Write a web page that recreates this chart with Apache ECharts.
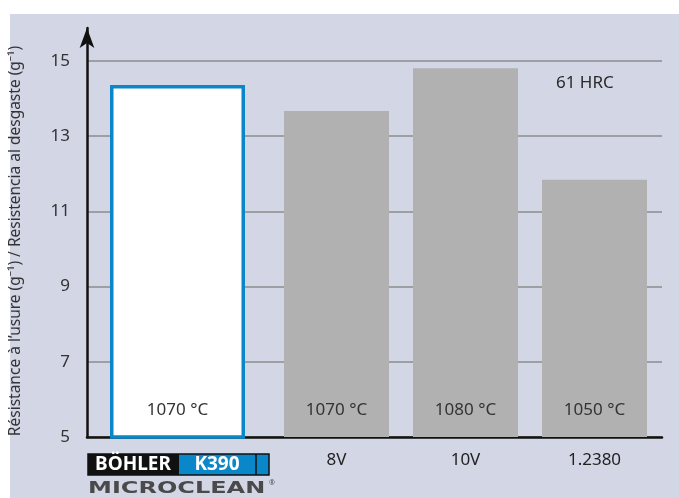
<!DOCTYPE html>
<html>
<head>
<meta charset="utf-8">
<script src="https://cdn.jsdelivr.net/npm/echarts@6/dist/echarts.min.js"></script>
<style>
  html, body { margin: 0; padding: 0; background: #fff; }
  #chart { width: 679px; height: 498px; }
</style>
</head>
<body>
<div id="chart"></div>
<script>
// data
var grades = ['BÖHLER K390', '8V', '10V', '1.2380'];
var wearResistance = [14.36, 13.67, 14.81, 11.84];
var hardeningTemps = ['1070 °C', '1070 °C', '1080 °C', '1050 °C'];
var yTicks = [5, 7, 9, 11, 13, 15];
var hardnessNote = '61 HRC';

var chart = echarts.init(document.getElementById('chart'));
var font = 'Noto Sans, sans-serif';

// bar layout: width and centre shift in px (first bar is the wider highlighted one)
var barW = [135, 105, 105, 105];
var barShift = [-30, 0, 0, 0];

chart.setOption({
  animation: false,
  graphic: [
    { type: 'rect', z: -10, shape: { x: 10, y: 14, width: 669, height: 484 }, style: { fill: '#d3d6e5' } },
    { type: 'text', x: 556, y: 75, style: { text: hardnessNote, font: '17px ' + font, fill: '#2a2a2a' } },
    // logo
    { type: 'rect', shape: { x: 88, y: 454, width: 91, height: 21 }, style: { fill: '#111' } },
    { type: 'rect', shape: { x: 179, y: 454, width: 90, height: 21 }, style: { fill: '#0a87c8' } },
    { type: 'rect', shape: { x: 88, y: 454, width: 181, height: 21 }, style: { fill: 'none', stroke: '#111', lineWidth: 1.5 } },
    { type: 'line', shape: { x1: 256, y1: 454, x2: 256, y2: 475 }, style: { stroke: '#111', lineWidth: 1.5 } },
    { type: 'text', x: 133, y: 465, style: { text: 'BÖHLER', font: 'bold 19px ' + font, fill: '#fff', align: 'center', verticalAlign: 'middle' } },
    { type: 'text', x: 217, y: 465, style: { text: 'K390', font: 'bold 19px ' + font, fill: '#fff', align: 'center', verticalAlign: 'middle' } },
    { type: 'text', x: 88, y: 489, scaleX: 1.6, style: { text: 'MICROCLEAN', font: 'bold 15px DejaVu Sans', fill: '#4a4a4a', verticalAlign: 'middle' } },
    { type: 'text', x: 269, y: 483, style: { text: '®', font: '7px ' + font, fill: '#4a4a4a', verticalAlign: 'middle' } }
  ],
  grid: [
    { left: 87, right: 17, top: 61, bottom: 61 },
    { left: 143, right: 20, top: 61, bottom: 61 },
    { left: 87, right: 17, top: 28, bottom: 61 }
  ],
  xAxis: [
    { gridIndex: 0, type: 'category', data: grades, axisLine: { lineStyle: { color: '#111', width: 2.5 } },
      axisTick: { show: false }, axisLabel: { show: false } },
    { gridIndex: 1, type: 'category', data: grades, axisLine: { show: false }, axisTick: { show: false },
      axisLabel: { margin: 15, fontSize: 17, fontFamily: font, color: '#222',
        formatter: function (v, i) { return i === 0 ? '' : v; } } },
    { gridIndex: 2, type: 'category', data: grades, show: false }
  ],
  yAxis: [
    { gridIndex: 0, type: 'value', min: 5, max: 15, interval: 2,
      name: 'Résistance à l’usure (g⁻¹) / Resistencia al desgaste (g⁻¹)',
      nameLocation: 'middle', nameRotate: 90, nameGap: 63,
      nameTextStyle: { fontSize: 15.5, fontFamily: font, color: '#333', padding: [0, 0, 0, 16] },
      axisLine: { show: false }, axisTick: { show: false },
      axisLabel: { margin: 17, fontSize: 17, fontFamily: font, color: '#333',
        customValues: yTicks },
      splitLine: { lineStyle: { color: '#8c8c8c', width: 1.5 } } },
    { gridIndex: 1, type: 'value', min: 5, max: 15, show: false },
    { gridIndex: 2, type: 'value', min: 0, max: 1,
      axisLine: { show: true, symbol: ['none', 'arrow'], symbolSize: [11, 20], lineStyle: { color: '#111', width: 2.5 } },
      axisTick: { show: false }, axisLabel: { show: false }, splitLine: { show: false } }
  ],
  series: [{
    type: 'custom',
    xAxisIndex: 1,
    yAxisIndex: 1,
    data: wearResistance.map(function (v, i) { return [i, v]; }),
    renderItem: function (params, api) {
      var i = api.value(0);
      var top = api.coord([i, api.value(1)]);
      var base = api.coord([i, 5]);
      var cx = top[0] + barShift[i];
      var w = barW[i];
      var first = i === 0;
      var lw = 3.5;
      return {
        type: 'group',
        children: [
          { type: 'rect',
            shape: first
              ? { x: cx - w / 2 + lw / 2, y: top[1] + lw / 2, width: w - lw, height: base[1] - top[1] - lw / 2 }
              : { x: cx - w / 2, y: top[1], width: w, height: base[1] - top[1] },
            style: first ? { fill: '#fff', stroke: '#0a87c8', lineWidth: lw } : { fill: '#b1b1b1' } },
          { type: 'text', x: cx, y: base[1] - 27,
            style: { text: hardeningTemps[i], font: '17px ' + font, fill: '#333', align: 'center', verticalAlign: 'middle' } }
        ]
      };
    }
  }]
});
</script>
</body>
</html>
